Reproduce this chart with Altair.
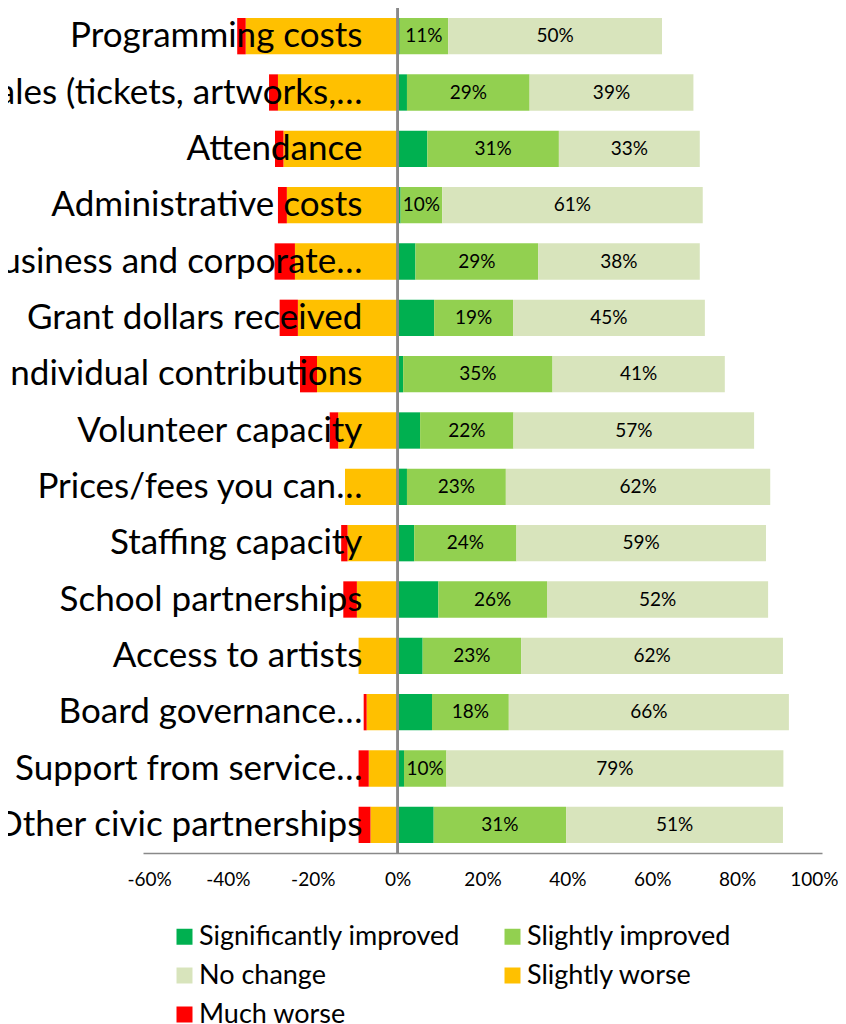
import altair as alt
import pandas as pd

categories = [
    "Programming costs",
    "Sales (tickets, artworks,…",
    "Attendance",
    "Administrative costs",
    "Business and corporate…",
    "Grant dollars received",
    "Individual contributions",
    "Volunteer capacity",
    "Prices/fees you can…",
    "Staffing capacity",
    "School partnerships",
    "Access to artists",
    "Board governance…",
    "Support from service…",
    "Other civic partnerships",
]
significantly_improved = [0.5, 2.2, 7.0, 0.7, 4.2, 8.6, 1.3, 5.3, 2.2, 3.9, 9.6, 5.9, 8.1, 1.5, 8.5]
slightly_improved = [11.4, 28.9, 31.0, 9.8, 28.9, 18.6, 35.2, 22.0, 23.3, 24.1, 25.6, 23.2, 18.1, 10.0, 31.2]
no_change = [50.4, 38.6, 33.2, 61.4, 38.1, 45.2, 40.6, 56.7, 62.3, 58.8, 52.1, 61.7, 66.0, 79.4, 51.1]
slightly_worse = [35.8, 28.2, 26.9, 26.1, 24.2, 23.5, 19.0, 14.0, 12.4, 11.8, 9.6, 9.2, 7.3, 6.8, 6.4]
much_worse = [2.0, 2.1, 2.0, 2.1, 4.8, 4.3, 4.0, 2.0, 0.0, 1.5, 3.2, 0.0, 0.7, 2.4, 2.8]

status_order = ["Significantly improved", "Slightly improved", "No change", "Slightly worse", "Much worse"]
status_colors = ["#00B050", "#92D050", "#D8E4BC", "#FFC000", "#FF0000"]
tick_values = [-60, -40, -20, 0, 20, 40, 60, 80, 100]

rows = []
for i, cat in enumerate(categories):
    pos = 0.0
    for name, vals in [("Significantly improved", significantly_improved),
                       ("Slightly improved", slightly_improved),
                       ("No change", no_change)]:
        v = vals[i]
        rows.append({"category": cat, "status": name, "value": v, "x0": pos, "x1": pos + v})
        pos += v
    neg = 0.0
    for name, vals in [("Slightly worse", slightly_worse), ("Much worse", much_worse)]:
        v = vals[i]
        rows.append({"category": cat, "status": name, "value": v, "x0": neg - v, "x1": neg})
        neg -= v
df = pd.DataFrame(rows)
df["mid"] = (df["x0"] + df["x1"]) / 2
df["label"] = df["value"].round(0).astype(int).astype(str) + "%"

cat_df = pd.DataFrame({"category": categories})

FONT = "Lato"

yenc = alt.Y("category:N", sort=categories, axis=None,
             scale=alt.Scale(paddingInner=0.355, paddingOuter=0.1775))

xscale = alt.Scale(domain=[-60, 100], nice=False, zero=False)

bars = alt.Chart(df).mark_bar().encode(
    x=alt.X("x0:Q", scale=xscale,
            axis=alt.Axis(values=tick_values, labelExpr="datum.value + '%'",
                          grid=False, ticks=False, tickSize=0,
                          domainColor="#898989", domainWidth=1.5,
                          labelFont=FONT, labelFontSize=19, labelColor="#000000",
                          labelFlush=True, labelFlushOffset=16,
                          labelPadding=17, title=None)),
    x2="x1:Q",
    y=yenc,
    color=alt.Color("status:N",
                    scale=alt.Scale(domain=status_order, range=status_colors),
                    sort=status_order,
                    legend=alt.Legend(title=None, orient="none", legendX=28, legendY=915,
                                      columns=2, direction="horizontal",
                                      symbolType="square", symbolSize=256, symbolStrokeWidth=0,
                                      labelFont=FONT, labelFontSize=27, labelColor="#000000",
                                      labelLimit=500, labelOffset=1,
                                      columnPadding=38, rowPadding=11)),
)

zero_line = alt.Chart(cat_df).mark_rule(color="#898989", strokeWidth=1.5).encode(
    x=alt.datum(0),
)

value_labels = alt.Chart(df).transform_filter(
    alt.FieldOneOfPredicate(field="status", oneOf=["Slightly improved", "No change"])
).mark_text(font=FONT, fontSize=19, color="#000000", baseline="middle").encode(
    x="mid:Q",
    y=yenc,
    text="label:N",
)

cat_labels = alt.Chart(cat_df).mark_text(
    font=FONT, fontSize=35, color="#000000", align="right", baseline="middle"
).encode(
    x=alt.datum(-8.3),
    y=yenc,
    text="category:N",
)

chart = alt.layer(bars, zero_line, value_labels, cat_labels).properties(
    width=679, height=845,
    autosize=alt.AutoSizeParams(type="none"),
    padding={"left": 135, "top": 0, "right": 16, "bottom": 175},
).configure_view(stroke=None)

chart.save("out.html", embed_options={"renderer": "svg", "actions": False})
